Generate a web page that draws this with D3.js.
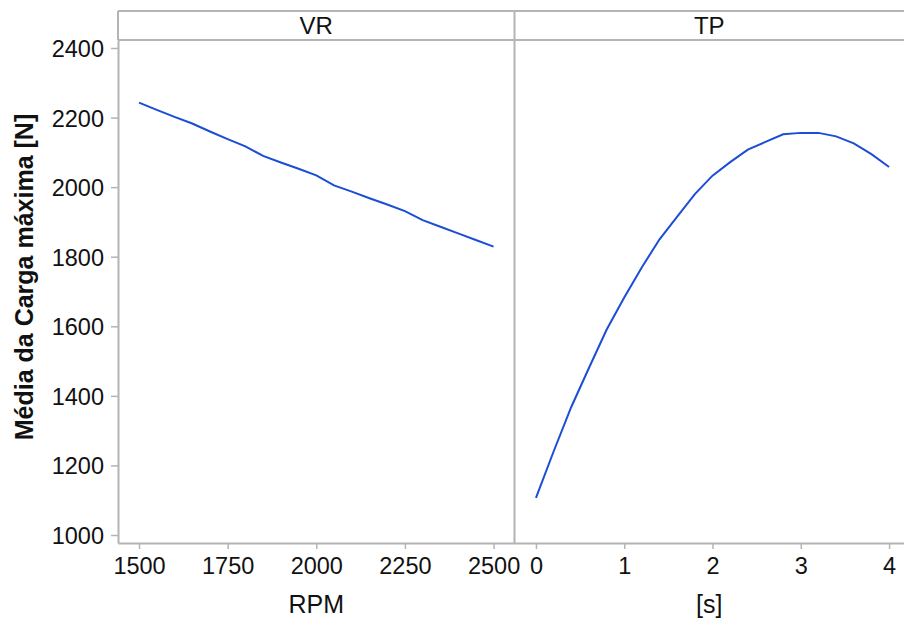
<!DOCTYPE html>
<html>
<head>
<meta charset="utf-8">
<script src="https://cdn.jsdelivr.net/npm/d3@7"></script>
<style>
  html, body { margin: 0; padding: 0; background: #fff; }
  svg { display: block; font-family: "Liberation Sans", Arial, sans-serif; }
</style>
</head>
<body>
<svg id="chart" width="904" height="620"></svg>
<script>
// Main-effects panels: mean maximum load against each factor
const vrRpm  = [1500, 1550, 1600, 1650, 1700, 1750, 1800, 1850, 1900, 1950, 2000,
                2050, 2100, 2150, 2200, 2250, 2300, 2350, 2400, 2450, 2500];
const vrLoad = [2243, 2222, 2202, 2183, 2160, 2138, 2117, 2090, 2071, 2053, 2034,
                2005, 1987, 1968, 1950, 1931, 1905, 1886, 1867, 1848, 1829];

const tpTime = [0, 0.2, 0.4, 0.6, 0.8, 1.0, 1.2, 1.4, 1.6, 1.8, 2.0,
                2.2, 2.4, 2.6, 2.8, 3.0, 3.2, 3.4, 3.6, 3.8, 4.0];
const tpLoad = [1107, 1240, 1368, 1480, 1590, 1683, 1770, 1850, 1915, 1980, 2033,
                2072, 2108, 2130, 2152, 2156, 2156, 2146, 2126, 2095, 2058];

const yTicks = [1000, 1200, 1400, 1600, 1800, 2000, 2200, 2400];
const vrTicks = [1500, 1750, 2000, 2250, 2500];
const tpTicks = [0, 1, 2, 3, 4];
const panelNames = ["VR", "TP"];
const xTitles = ["RPM", "[s]"];
const yTitle = "Média da Carga máxima [N]";

const svg = d3.select("#chart");
const frameColor = "#b4b4b4";
const lineColor = "#1b4dd6";
const textColor = "#111";
const tickFont = 23.5;

const frameTop = 11, headerBottom = 40, plotBottom = 543;
const panelX = [[118, 514.5], [514.5, 904]];

const y = d3.scaleLinear().domain([977, 2423]).range([plotBottom, headerBottom]);
const xVR = d3.scaleLinear().domain([1440.7, 2559]).range(panelX[0]);
const xTP = d3.scaleLinear().domain([-0.243, 4.169]).range(panelX[1]);

// Frame: outer top, header separator, panel divider
const frame = svg.append("g").attr("stroke", frameColor).attr("stroke-width", 2).attr("fill", "none");
frame.append("line").attr("x1", 118).attr("x2", 904).attr("y1", frameTop).attr("y2", frameTop);
frame.append("line").attr("x1", 118).attr("x2", 904).attr("y1", headerBottom).attr("y2", headerBottom);
frame.append("line").attr("x1", 514.5).attr("x2", 514.5).attr("y1", frameTop).attr("y2", plotBottom);
frame.append("line").attr("x1", 118).attr("x2", 118).attr("y1", frameTop).attr("y2", headerBottom);

// Panel headers
panelNames.forEach((name, i) => {
  svg.append("text")
    .attr("x", (panelX[i][0] + panelX[i][1]) / 2)
    .attr("y", 33.5)
    .attr("text-anchor", "middle")
    .attr("font-size", 24)
    .attr("fill", textColor)
    .text(name);
});

function styleAxis(g) {
  g.select(".domain").attr("stroke", frameColor).attr("stroke-width", 2);
  g.selectAll(".tick line").attr("stroke", frameColor).attr("stroke-width", 1.5);
  g.selectAll(".tick text").attr("fill", textColor).attr("font-size", tickFont)
    .attr("font-family", "Liberation Sans, Arial, sans-serif");
}

// Y axis
svg.append("g")
  .attr("transform", "translate(118,0)")
  .call(d3.axisLeft(y).tickValues(yTicks).tickFormat(d3.format("d"))
    .tickSize(7).tickPadding(7).tickSizeOuter(0))
  .call(styleAxis)
  .call(g => g.selectAll(".tick text").attr("dy", "0.36em"));

// X axes
svg.append("g")
  .attr("transform", `translate(0,${plotBottom})`)
  .call(d3.axisBottom(xVR).tickValues(vrTicks).tickFormat(d3.format("d"))
    .tickSize(6).tickPadding(8).tickSizeOuter(0))
  .call(styleAxis);

svg.append("g")
  .attr("transform", `translate(0,${plotBottom})`)
  .call(d3.axisBottom(xTP).tickValues(tpTicks).tickFormat(d3.format("d"))
    .tickSize(6).tickPadding(8).tickSizeOuter(0))
  .call(styleAxis);

// Axis titles
xTitles.forEach((t, i) => {
  svg.append("text")
    .attr("x", (panelX[i][0] + panelX[i][1]) / 2)
    .attr("y", 613)
    .attr("text-anchor", "middle")
    .attr("font-size", 25)
    .attr("fill", textColor)
    .text(t);
});

svg.append("text")
  .attr("transform", "translate(33,277) rotate(-90)")
  .attr("text-anchor", "middle")
  .attr("font-size", 25)
  .attr("font-weight", "bold")
  .attr("fill", textColor)
  .text(yTitle);

// Mean lines
const vrLine = d3.line().x((d, i) => xVR(vrRpm[i])).y(d => y(d));
const tpLine = d3.line().x((d, i) => xTP(tpTime[i])).y(d => y(d));

svg.append("path").datum(vrLoad).attr("d", vrLine)
  .attr("fill", "none").attr("stroke", lineColor).attr("stroke-width", 2);
svg.append("path").datum(tpLoad).attr("d", tpLine)
  .attr("fill", "none").attr("stroke", lineColor).attr("stroke-width", 2);
</script>
</body>
</html>
